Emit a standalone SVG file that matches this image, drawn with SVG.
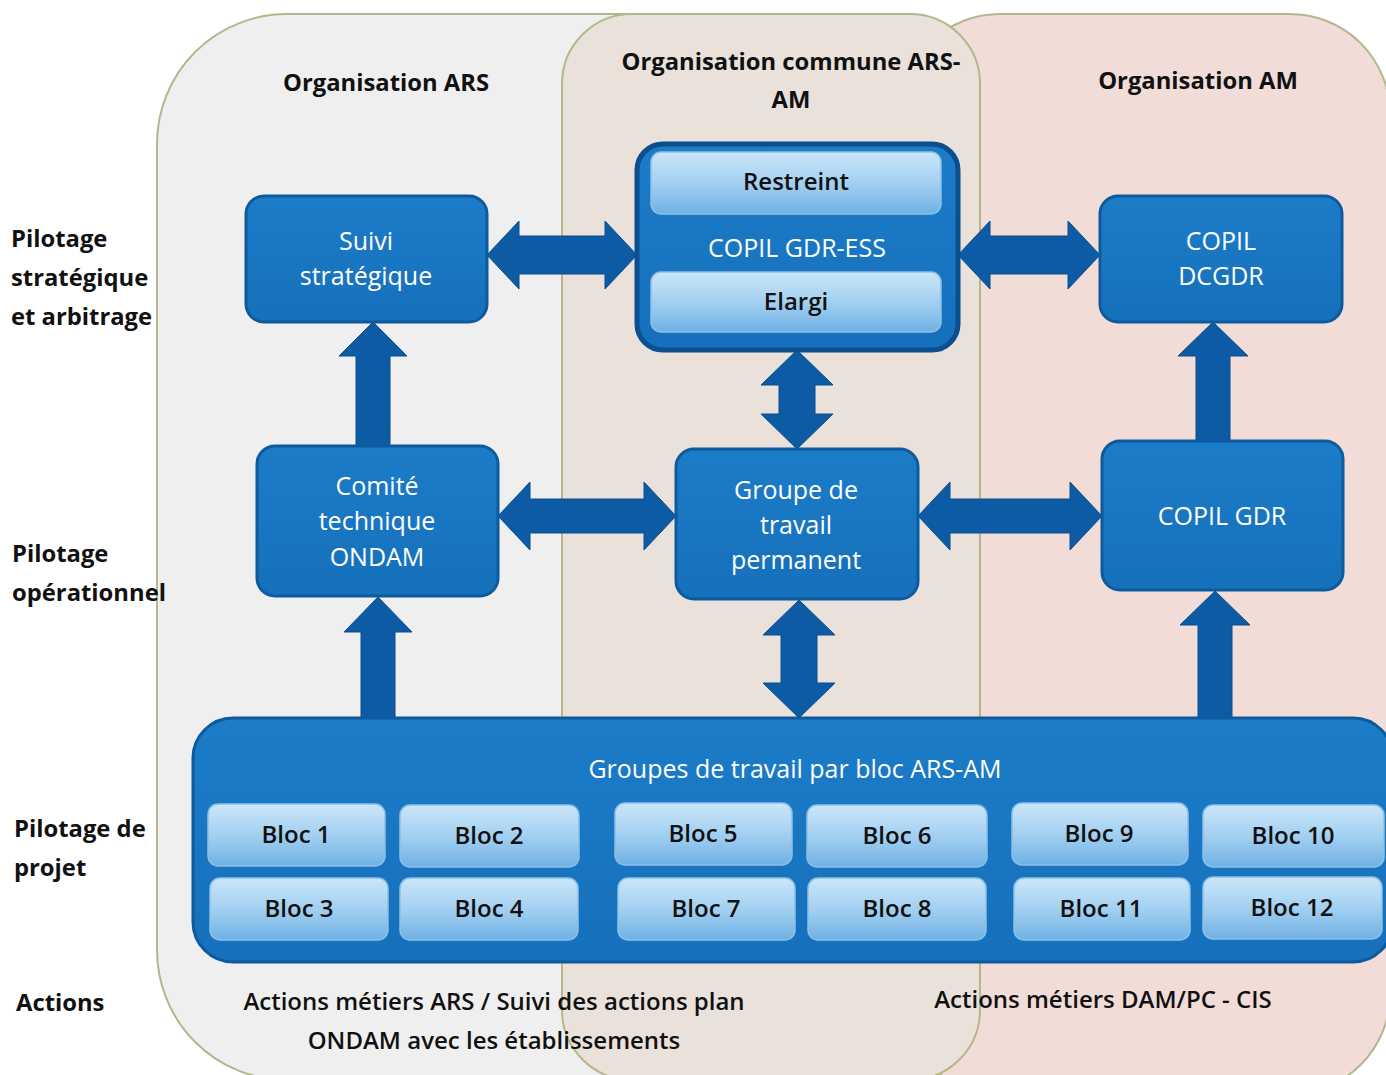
<svg xmlns="http://www.w3.org/2000/svg" width="1386" height="1075" viewBox="0 0 1386 1075">
<defs>
<linearGradient id="lb" x1="0" y1="0" x2="0" y2="1">
<stop offset="0" stop-color="#cbe6f9"/>
<stop offset="0.5" stop-color="#a3d0f1"/>
<stop offset="1" stop-color="#6fb1e4"/>
</linearGradient>
<linearGradient id="nb" x1="0" y1="0" x2="0" y2="1">
<stop offset="0" stop-color="#1c7cc8"/>
<stop offset="1" stop-color="#1670bb"/>
</linearGradient>
</defs>
<style>
.zone{stroke:#b4b78c;stroke-width:2}
.node{fill:url(#nb);stroke:#0d5a9d;stroke-width:3}
.light{fill:url(#lb);stroke:#8cc0e8;stroke-width:1.5}
.arrow{fill:#0c5ba4;stroke:#0a4f8e;stroke-width:1}
.t{font-family:"Open Sans","DejaVu Sans",sans-serif;font-weight:700;font-size:23.8px;fill:#111;text-anchor:middle}
.tl{font-family:"Open Sans","DejaVu Sans",sans-serif;font-weight:700;font-size:23.8px;fill:#111}
.w{font-family:"Open Sans","DejaVu Sans",sans-serif;font-weight:400;font-size:25px;fill:#fff;text-anchor:middle}
.b{font-family:"Open Sans","DejaVu Sans",sans-serif;font-weight:600;font-size:24px;fill:#111;text-anchor:middle}
</style>
<rect width="1386" height="1075" fill="#ffffff"/>
<g id="zones">
<rect class="zone" x="157" y="14" width="620" height="1066" rx="130" fill="#efefef"/>
<rect class="zone" x="900" y="14" width="490" height="1080" rx="100" fill="#f1dcd7"/>
<rect class="zone" x="562" y="14" width="418" height="1066" rx="70" fill="#e9e1da"/>
</g>
<g id="headers">
<text class="t" x="386" y="91">Organisation ARS</text>
<text class="t" x="791" y="70">Organisation commune ARS-</text>
<text class="t" x="791" y="108">AM</text>
<text class="t" x="1198" y="89">Organisation AM</text>
<text class="tl" x="11" y="247">Pilotage</text>
<text class="tl" x="11" y="286">stratégique</text>
<text class="tl" x="11" y="325">et arbitrage</text>
<text class="tl" x="12" y="562">Pilotage</text>
<text class="tl" x="12" y="601">opérationnel</text>
<text class="tl" x="14" y="837">Pilotage de</text>
<text class="tl" x="14" y="876">projet</text>
<text class="tl" x="16" y="1011">Actions</text>
<text class="b" x="494" y="1010">Actions métiers ARS / Suivi des actions plan</text>
<text class="b" x="494" y="1049">ONDAM avec les établissements</text>
<text class="b" x="1103" y="1008">Actions métiers DAM/PC - CIS</text>
</g>
<g id="connectors">
<path class="arrow" d="M487 255 L519 221 L519 236 L605 236 L605 221 L637 255 L605 289 L605 274 L519 274 L519 289 Z"/>
<path class="arrow" d="M958 255 L990 221 L990 236 L1068 236 L1068 221 L1100 255 L1068 289 L1068 274 L990 274 L990 289 Z"/>
<path class="arrow" d="M498 516 L530 482 L530 499 L644 499 L644 482 L676 516 L644 550 L644 533 L530 533 L530 550 Z"/>
<path class="arrow" d="M918 516 L950 482 L950 499 L1070 499 L1070 482 L1102 516 L1070 550 L1070 533 L950 533 L950 550 Z"/>
<path class="arrow" d="M797 350 L833 385 L815 385 L815 414 L833 414 L797 449 L761 414 L779 414 L779 385 L761 385 Z"/>
<path class="arrow" d="M799 600 L835 635 L817 635 L817 683 L835 683 L799 718 L763 683 L781 683 L781 635 L763 635 Z"/>
<path class="arrow" d="M373 322 L407 356 L390 356 L390 448 L356 448 L356 356 L339 356 Z"/>
<path class="arrow" d="M378 597 L412 632 L395 632 L395 720 L361 720 L361 632 L344 632 Z"/>
<path class="arrow" d="M1213 322 L1248 356 L1230 356 L1230 443 L1196 443 L1196 356 L1178 356 Z"/>
<path class="arrow" d="M1215 591 L1250 625 L1232 625 L1232 720 L1198 720 L1198 625 L1180 625 Z"/>
</g>
<g id="suivi">
<rect class="node" x="246" y="196" width="241" height="126" rx="18"/>
<text class="w" x="366" y="250">Suivi</text>
<text class="w" x="366" y="285">stratégique</text>
</g>
<g id="copil-ess">
<rect x="637" y="144" width="321" height="206" rx="26" fill="url(#nb)" stroke="#0b4f8e" stroke-width="5"/>
<rect class="light" x="651" y="152" width="290" height="62" rx="10"/>
<text class="b" x="796" y="190">Restreint</text>
<text class="w" x="797" y="257">COPIL GDR-ESS</text>
<rect class="light" x="651" y="272" width="290" height="60" rx="10"/>
<text class="b" x="796" y="310">Elargi</text>
</g>
<g id="copil-dcgdr">
<rect class="node" x="1100" y="196" width="242" height="126" rx="18"/>
<text class="w" x="1221" y="250">COPIL</text>
<text class="w" x="1221" y="285">DCGDR</text>
</g>
<g id="comite">
<rect class="node" x="257" y="446" width="241" height="150" rx="18"/>
<text class="w" x="377" y="495">Comité</text>
<text class="w" x="377" y="530">technique</text>
<text class="w" x="377" y="566">ONDAM</text>
</g>
<g id="groupe">
<rect class="node" x="676" y="449" width="242" height="150" rx="18"/>
<text class="w" x="796" y="499">Groupe de</text>
<text class="w" x="796" y="534">travail</text>
<text class="w" x="796" y="569">permanent</text>
</g>
<g id="copil-gdr">
<rect class="node" x="1102" y="441" width="241" height="149" rx="18"/>
<text class="w" x="1222" y="525">COPIL GDR</text>
</g>
<g id="groupes-bloc">
<rect x="193" y="718" width="1200" height="244" rx="40" fill="url(#nb)" stroke="#0d5a9d" stroke-width="3"/>
<text class="w" x="795" y="778">Groupes de travail par bloc ARS-AM</text>
</g>
<g id="bloc1"><rect class="light" x="208" y="804" width="177" height="62" rx="10"/><text class="b" x="296" y="843">Bloc 1</text></g>
<g id="bloc2"><rect class="light" x="400" y="805" width="179" height="62" rx="10"/><text class="b" x="489" y="844">Bloc 2</text></g>
<g id="bloc5"><rect class="light" x="615" y="803" width="177" height="62" rx="10"/><text class="b" x="703" y="842">Bloc 5</text></g>
<g id="bloc6"><rect class="light" x="807" y="805" width="180" height="62" rx="10"/><text class="b" x="897" y="844">Bloc 6</text></g>
<g id="bloc9"><rect class="light" x="1012" y="803" width="176" height="62" rx="10"/><text class="b" x="1099" y="842">Bloc 9</text></g>
<g id="bloc10"><rect class="light" x="1203" y="805" width="181" height="62" rx="10"/><text class="b" x="1293" y="844">Bloc 10</text></g>
<g id="bloc3"><rect class="light" x="210" y="878" width="178" height="62" rx="10"/><text class="b" x="299" y="917">Bloc 3</text></g>
<g id="bloc4"><rect class="light" x="400" y="878" width="178" height="62" rx="10"/><text class="b" x="489" y="917">Bloc 4</text></g>
<g id="bloc7"><rect class="light" x="618" y="878" width="177" height="62" rx="10"/><text class="b" x="706" y="917">Bloc 7</text></g>
<g id="bloc8"><rect class="light" x="808" y="878" width="178" height="62" rx="10"/><text class="b" x="897" y="917">Bloc 8</text></g>
<g id="bloc11"><rect class="light" x="1014" y="878" width="176" height="62" rx="10"/><text class="b" x="1101" y="917">Bloc 11</text></g>
<g id="bloc12"><rect class="light" x="1203" y="877" width="179" height="62" rx="10"/><text class="b" x="1292" y="916">Bloc 12</text></g>
</svg>
